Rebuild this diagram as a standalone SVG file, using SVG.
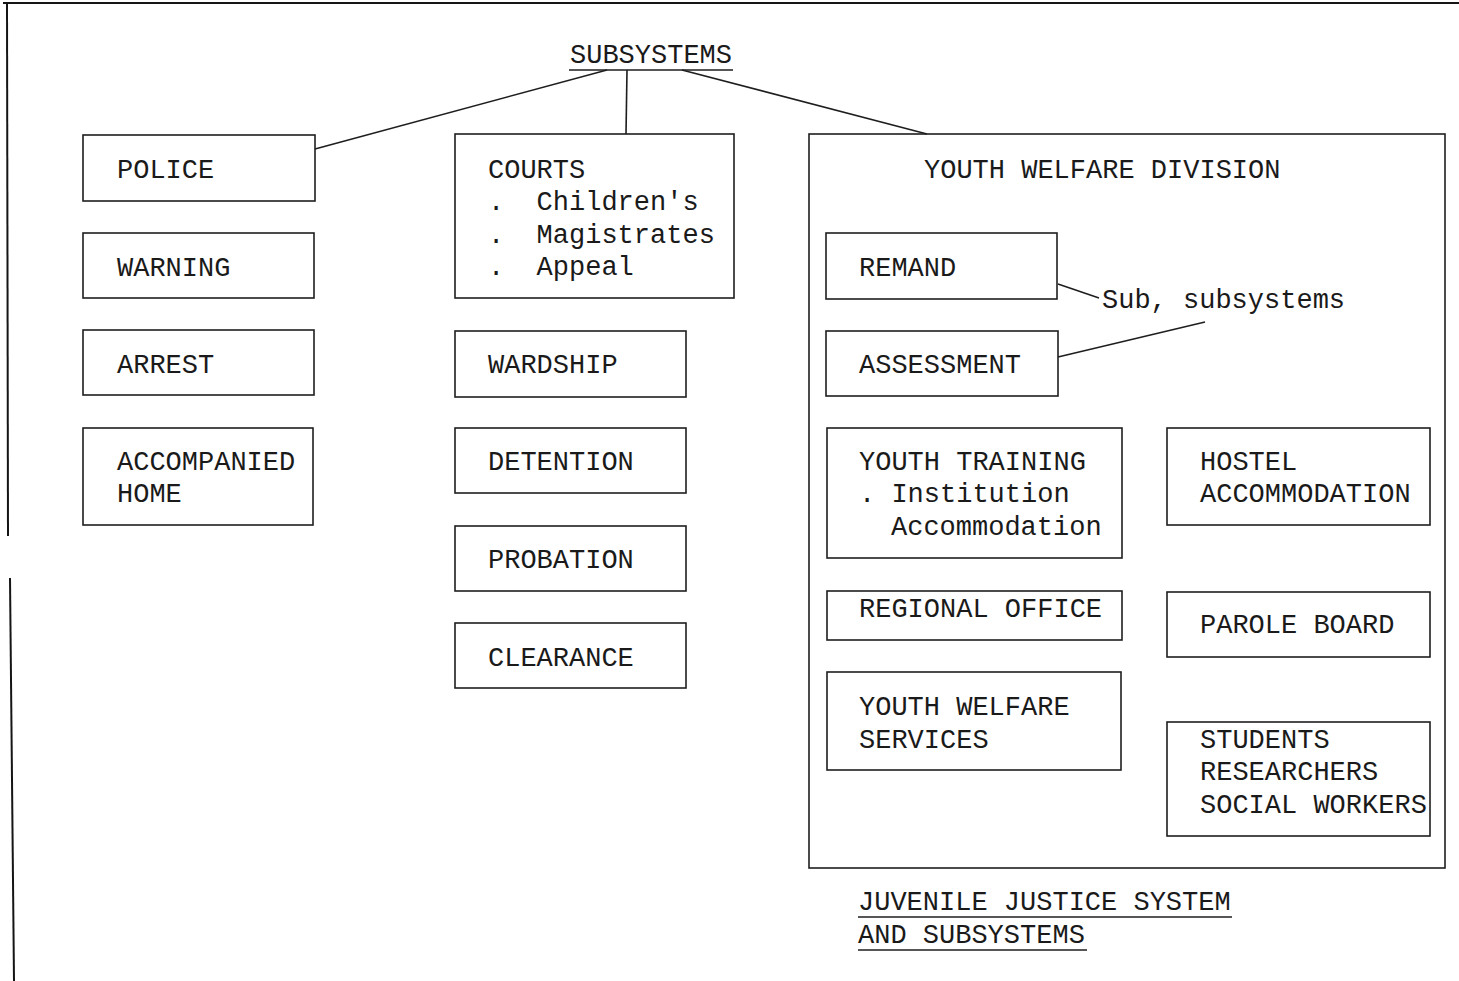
<svg xmlns="http://www.w3.org/2000/svg" width="1459" height="981" viewBox="0 0 1459 981">
<style>
.bg{fill:#ffffff}
.box{fill:none;stroke:#1e1e1e;stroke-width:1.6}
.ln{fill:none;stroke:#1e1e1e;stroke-width:1.6}
.frame{fill:none;stroke:#151515;stroke-width:2}
text{font-family:"Liberation Mono","DejaVu Sans Mono",monospace;font-size:27px;fill:#1a1a1a;white-space:pre}
</style>
<rect class="bg" x="0" y="0" width="1459" height="981"/>
<g id="frame">
<line class="frame" x1="3" y1="3" x2="1459" y2="3"/>
<line class="frame" x1="7" y1="3" x2="8" y2="536"/>
<line class="frame" x1="10" y1="578" x2="14" y2="981"/>
</g>
<g id="subsystems">
<text x="570" y="63">SUBSYSTEMS</text>
<line class="ln" x1="569" y1="70" x2="733" y2="70"/>
</g>
<g id="connectors">
<line class="ln" x1="315" y1="149" x2="607" y2="70"/>
<line class="ln" x1="627" y1="70" x2="626" y2="134"/>
<line class="ln" x1="682" y1="70" x2="927" y2="134"/>
<line class="ln" x1="1058" y1="284" x2="1099" y2="298"/>
<line class="ln" x1="1058" y1="357" x2="1205" y2="322"/>
</g>
<g id="police">
<rect class="box" x="83" y="135" width="232" height="66"/>
<text x="117" y="178">POLICE</text>
</g>
<g id="warning">
<rect class="box" x="83" y="233" width="231" height="65"/>
<text x="117" y="276">WARNING</text>
</g>
<g id="arrest">
<rect class="box" x="83" y="330" width="231" height="65"/>
<text x="117" y="373">ARREST</text>
</g>
<g id="accompanied-home">
<rect class="box" x="83" y="428" width="230" height="97"/>
<text x="117" y="470">ACCOMPANIED</text>
<text x="117" y="502">HOME</text>
</g>
<g id="courts">
<rect class="box" x="455" y="134" width="279" height="164"/>
<text x="488" y="178">COURTS</text>
<text x="488" y="210">.  Children's</text>
<text x="488" y="243">.  Magistrates</text>
<text x="488" y="275">.  Appeal</text>
</g>
<g id="wardship">
<rect class="box" x="455" y="331" width="231" height="66"/>
<text x="488" y="373">WARDSHIP</text>
</g>
<g id="detention">
<rect class="box" x="455" y="428" width="231" height="65"/>
<text x="488" y="470">DETENTION</text>
</g>
<g id="probation">
<rect class="box" x="455" y="526" width="231" height="65"/>
<text x="488" y="568">PROBATION</text>
</g>
<g id="clearance">
<rect class="box" x="455" y="623" width="231" height="65"/>
<text x="488" y="666">CLEARANCE</text>
</g>
<g id="youth-welfare-division">
<rect class="box" x="809" y="134" width="636" height="734"/>
<text x="924" y="178">YOUTH WELFARE DIVISION</text>
</g>
<g id="remand">
<rect class="box" x="826" y="233" width="231" height="66"/>
<text x="859" y="276">REMAND</text>
</g>
<g id="sub-subsystems">
<text x="1102" y="308">Sub, subsystems</text>
</g>
<g id="assessment">
<rect class="box" x="826" y="331" width="232" height="65"/>
<text x="859" y="373">ASSESSMENT</text>
</g>
<g id="youth-training">
<rect class="box" x="827" y="428" width="295" height="130"/>
<text x="859" y="470">YOUTH TRAINING</text>
<text x="859" y="502">. Institution</text>
<text x="891" y="535">Accommodation</text>
</g>
<g id="hostel-accommodation">
<rect class="box" x="1167" y="428" width="263" height="97"/>
<text x="1200" y="470">HOSTEL</text>
<text x="1200" y="502">ACCOMMODATION</text>
</g>
<g id="regional-office">
<rect class="box" x="827" y="591" width="295" height="49"/>
<text x="859" y="617">REGIONAL OFFICE</text>
</g>
<g id="parole-board">
<rect class="box" x="1167" y="592" width="263" height="65"/>
<text x="1200" y="633">PAROLE BOARD</text>
</g>
<g id="youth-welfare-services">
<rect class="box" x="827" y="672" width="294" height="98"/>
<text x="859" y="715">YOUTH WELFARE</text>
<text x="859" y="748">SERVICES</text>
</g>
<g id="students">
<rect class="box" x="1167" y="722" width="263" height="114"/>
<text x="1200" y="748">STUDENTS</text>
<text x="1200" y="780">RESEARCHERS</text>
<text x="1200" y="813">SOCIAL WORKERS</text>
</g>
<g id="title">
<text x="858" y="910">JUVENILE JUSTICE SYSTEM</text>
<line class="ln" x1="858" y1="917" x2="1232" y2="917"/>
<text x="858" y="943">AND SUBSYSTEMS</text>
<line class="ln" x1="858" y1="950" x2="1087" y2="950"/>
</g>
</svg>
